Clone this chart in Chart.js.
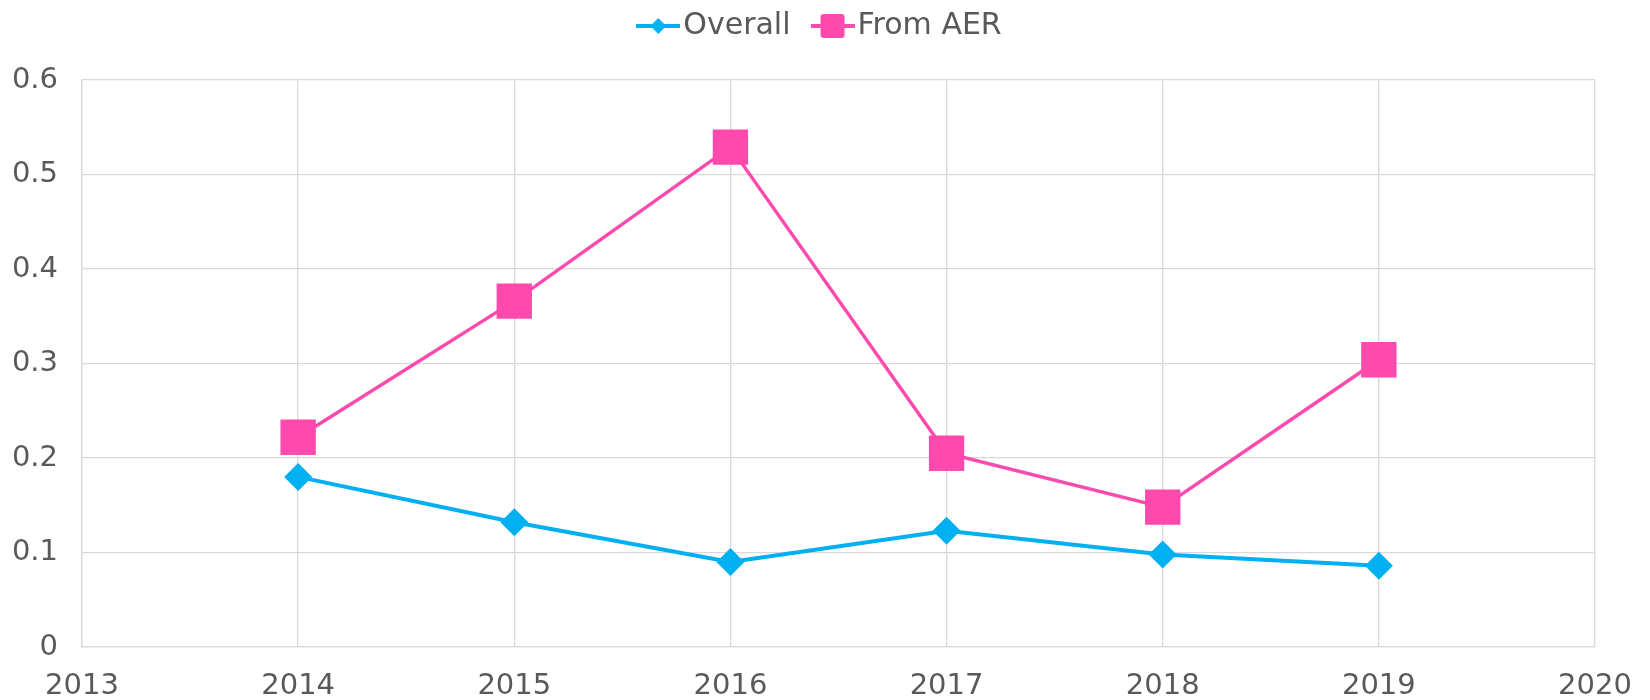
<!DOCTYPE html>
<html>
<head>
<meta charset="utf-8">
<script src="https://cdn.jsdelivr.net/npm/chart.js@4/dist/chart.umd.min.js"></script>
<style>
  html, body { margin: 0; padding: 0; background: #fff; }
  #wrap { width: 1650px; height: 700px; }
</style>
</head>
<body>
<div id="wrap"><canvas id="chart" width="1650" height="700"></canvas></div>
<script>
const YEARS = [2014, 2015, 2016, 2017, 2018, 2019];
const OVERALL = [0.180, 0.132, 0.090, 0.123, 0.098, 0.086];
const FROM_AER = [0.222, 0.366, 0.529, 0.205, 0.148, 0.304];
const SERIES_NAMES = ["Overall", "From AER"];

const BLUE = "#00B0F0";
const PINK = "#FF4AAD";
const TEXT = "#595959";
const GRID = "#D9D9D9";
const FONT = "'DejaVu Sans', sans-serif";

// little line+marker icons for the legend, like the Excel one
function legendIcon(color, shape) {
  const c = document.createElement("canvas");
  c.width = 44; c.height = 34;
  const ctx = c.getContext("2d");
  ctx.strokeStyle = color;
  ctx.lineWidth = 4;
  ctx.beginPath();
  ctx.moveTo(0, 17); ctx.lineTo(44, 17);
  ctx.stroke();
  ctx.fillStyle = color;
  ctx.beginPath();
  if (shape === "rect") {
    ctx.roundRect(10, 5, 24, 24, 3);
  } else {
    ctx.moveTo(22, 9); ctx.lineTo(30, 17); ctx.lineTo(22, 25); ctx.lineTo(14, 17); ctx.closePath();
  }
  ctx.fill();
  return c;
}

// legend box a bit taller than Chart.js makes it, text pulled up
const legendTweak = {
  id: "legendTweak",
  afterInit(chart) {
    const lg = chart.legend;
    const fit = lg.fit;
    lg.fit = function () { fit.call(this); this.height = 80; };
    const draw = lg.draw;
    lg.draw = function (area) {
      const ctx = this.ctx;
      ctx.save();
      ctx.translate(0, -21);
      draw.call(this, area);
      ctx.restore();
    };
  }
};

const toPoints = vals => vals.map((v, i) => ({ x: YEARS[i], y: v }));

new Chart(document.getElementById("chart"), {
  type: "line",
  data: {
    datasets: [
      {
        label: SERIES_NAMES[0],
        data: toPoints(OVERALL),
        borderColor: BLUE,
        backgroundColor: BLUE,
        borderWidth: 4,
        pointStyle: "rectRot",
        pointRadius: 14,
        pointBorderWidth: 0,
        legendIcon: legendIcon(BLUE, "diamond")
      },
      {
        label: SERIES_NAMES[1],
        data: toPoints(FROM_AER),
        borderColor: PINK,
        backgroundColor: PINK,
        borderWidth: 3.5,
        pointStyle: "rect",
        pointRadius: 25,
        pointBorderWidth: 0,
        legendIcon: legendIcon(PINK, "rect")
      }
    ]
  },
  plugins: [legendTweak],
  options: {
    responsive: false,
    animation: false,
    layout: { padding: 0 },
    plugins: {
      tooltip: { enabled: false },
      legend: {
        position: "top",
        labels: {
          usePointStyle: true,
          pointStyleWidth: 20,
          padding: 32,
          color: TEXT,
          font: { family: FONT, size: 30 },
          generateLabels: chart => chart.data.datasets.map((ds, i) => ({
            text: ds.label,
            pointStyle: ds.legendIcon,
            fontColor: TEXT,
            datasetIndex: i,
            hidden: false,
            lineWidth: 0
          }))
        }
      }
    },
    scales: {
      x: {
        type: "linear",
        min: 2013,
        max: 2020,
        ticks: {
          stepSize: 1,
          padding: 22,
          color: TEXT,
          font: { family: FONT, size: 29 },
          callback: v => String(v)
        },
        grid: { color: GRID, lineWidth: 1.3, drawTicks: false },
        border: { color: GRID, width: 1.3 },
        afterFit: s => { s.height = 53; s.paddingLeft = 0; s.paddingRight = 55; }
      },
      y: {
        min: 0,
        max: 0.6,
        ticks: {
          stepSize: 0.1,
          padding: 24,
          color: TEXT,
          font: { family: FONT, size: 29 },
          callback: v => String(Math.round(v * 10) / 10)
        },
        grid: { color: GRID, lineWidth: 1.3, drawTicks: false },
        border: { color: GRID, width: 1.3 },
        afterFit: s => { s.width = 82; }
      }
    }
  }
});
</script>
</body>
</html>
